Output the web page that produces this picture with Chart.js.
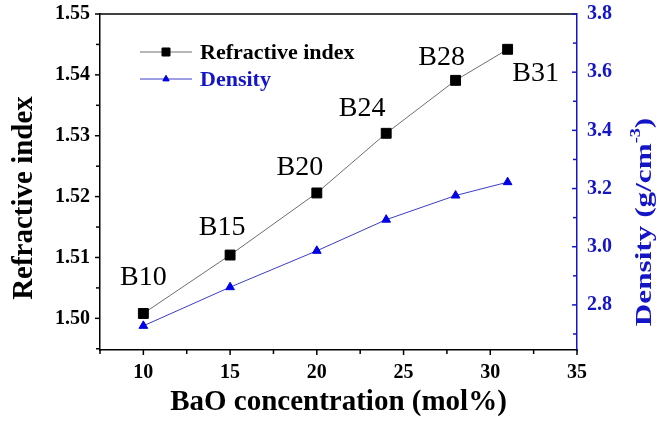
<!DOCTYPE html>
<html>
<head>
<meta charset="utf-8">
<script src="https://cdn.jsdelivr.net/npm/chart.js@4.4.0/dist/chart.umd.min.js"></script>
<style>
html, body { margin: 0; padding: 0; background: #fff; }
#wrap { width: 657px; height: 421px; }
</style>
</head>
<body>
<div id="wrap"><canvas id="myChart" width="657" height="421"></canvas></div>
<script>
// data
const concentration = [10, 15, 20, 24, 28, 31];
const refractiveIndex = [1.5008, 1.5104, 1.5206, 1.5304, 1.5391, 1.5442];
const density = [2.728, 2.861, 2.986, 3.093, 3.176, 3.222];
const sampleNames = ['B10', 'B15', 'B20', 'B24', 'B28', 'B31'];

const xTicks = [10, 15, 20, 25, 30, 35];
const refTicks = [1.50, 1.51, 1.52, 1.53, 1.54, 1.55];
const denTicks = [2.8, 3.0, 3.2, 3.4, 3.6, 3.8];

// label offsets from their point (style only)
const labelShift = [[0, -36], [-8, -27], [-17, -25], [-24, -25], [-14, -23], [28, 24]];

const serif = "'Liberation Serif', 'Times New Roman', serif";
const blue = '#1515c8';

function minorTicks(major, min, max) {
    const step = major[1] - major[0];
    const out = [];
    for (let v = major[0] - step / 2; v <= max + 1e-9; v += step) {
        if (v >= min - 1e-9) out.push(v);
    }
    return out;
}

function noPad(s) {
    s.paddingTop = 0;
    s.paddingBottom = 0;
    s.paddingLeft = 0;
    s.paddingRight = 0;
}

const decor = {
    id: 'decor',
    afterDraw(chart) {
        const ctx = chart.ctx;
        const a = chart.chartArea;
        const sx = chart.scales.x;
        const sl = chart.scales.yRef;
        const sr = chart.scales.yDen;

        function line(x1, y1, x2, y2) {
            ctx.beginPath();
            ctx.moveTo(x1, y1);
            ctx.lineTo(x2, y2);
            ctx.stroke();
        }

        ctx.save();
        ctx.lineWidth = 1.5;
        ctx.strokeStyle = '#000';
        line(a.left, a.top, a.right, a.top);

        xTicks.forEach(function(v) {
            const p = sx.getPixelForValue(v);
            line(p, a.bottom, p, a.bottom + 5);
        });
        minorTicks(xTicks, sx.min, sx.max).forEach(function(v) {
            const p = sx.getPixelForValue(v);
            line(p, a.bottom, p, a.bottom + 4);
        });
        refTicks.forEach(function(v) {
            const p = sl.getPixelForValue(v);
            line(a.left - 5, p, a.left, p);
        });
        minorTicks(refTicks, sl.min, sl.max).forEach(function(v) {
            const p = sl.getPixelForValue(v);
            line(a.left - 4, p, a.left, p);
        });

        ctx.strokeStyle = blue;
        denTicks.forEach(function(v) {
            const p = sr.getPixelForValue(v);
            line(a.right - 5, p, a.right, p);
        });
        minorTicks(denTicks, sr.min, sr.max).forEach(function(v) {
            const p = sr.getPixelForValue(v);
            line(a.right - 4, p, a.right, p);
        });

        // sample labels
        ctx.fillStyle = '#000';
        ctx.font = '28px ' + serif;
        ctx.textAlign = 'center';
        ctx.textBaseline = 'middle';
        sampleNames.forEach(function(name, i) {
            const px = sx.getPixelForValue(concentration[i]);
            const py = sl.getPixelForValue(refractiveIndex[i]);
            ctx.fillText(name, px + labelShift[i][0], py + labelShift[i][1]);
        });

        // legend
        const ds = chart.data.datasets;
        const rows = [52, 79];
        ds.forEach(function(d, i) {
            const y = rows[i];
            ctx.strokeStyle = d.borderColor;
            ctx.lineWidth = 1;
            line(140, y, 192, y);
            Chart.helpers.drawPoint(ctx, {
                pointStyle: d.pointStyle,
                radius: d.pointRadius - 1.5,
                borderWidth: 1,
                rotation: 0
            }, 166, y);
            ctx.fillStyle = d.pointBackgroundColor;
            ctx.strokeStyle = d.pointBorderColor;
            ctx.fill();
            ctx.stroke();
            ctx.fillStyle = i === 0 ? '#000' : blue;
            ctx.font = 'bold 22px ' + serif;
            ctx.textAlign = 'left';
            ctx.fillText(d.label, 200, y + 1);
        });

        // left title
        ctx.save();
        ctx.translate(25, 198);
        ctx.rotate(-Math.PI / 2);
        ctx.fillStyle = '#000';
        ctx.font = 'bold 29px ' + serif;
        ctx.textAlign = 'center';
        ctx.textBaseline = 'middle';
        ctx.fillText('Refractive index', 0, 0);
        ctx.restore();

        // right title with superscript
        ctx.save();
        ctx.translate(645, 222);
        ctx.rotate(-Math.PI / 2);
        ctx.scale(1.3, 1);
        ctx.fillStyle = blue;
        ctx.textBaseline = 'middle';
        ctx.textAlign = 'left';
        const mainFont = 'bold 24px ' + serif;
        const supFont = 'bold 14px ' + serif;
        ctx.font = mainFont;
        const w1 = ctx.measureText('Density (g/cm').width;
        const w3 = ctx.measureText(')').width;
        ctx.font = supFont;
        const w2 = ctx.measureText('-3').width;
        let x0 = -(w1 + w2 + w3) / 2;
        ctx.font = mainFont;
        ctx.fillText('Density (g/cm', x0, 0);
        ctx.font = supFont;
        ctx.fillText('-3', x0 + w1, -9);
        ctx.font = mainFont;
        ctx.fillText(')', x0 + w1 + w2, 0);
        ctx.restore();

        ctx.restore();
    }
};

const ctx = document.getElementById('myChart').getContext('2d');

new Chart(ctx, {
    type: 'line',
    data: {
        datasets: [{
            label: 'Refractive index',
            data: concentration.map(function(c, i) { return { x: c, y: refractiveIndex[i] }; }),
            yAxisID: 'yRef',
            borderColor: '#6e6e6e',
            borderWidth: 1,
            pointStyle: 'rect',
            pointRadius: 7,
            pointBackgroundColor: '#000',
            pointBorderColor: '#000',
            pointBorderWidth: 1
        }, {
            label: 'Density',
            data: concentration.map(function(c, i) { return { x: c, y: density[i] }; }),
            yAxisID: 'yDen',
            borderColor: '#3c3cc8',
            borderWidth: 1,
            pointStyle: 'triangle',
            pointRadius: 5,
            pointBackgroundColor: '#0000e6',
            pointBorderColor: '#0000e6',
            pointBorderWidth: 1
        }]
    },
    options: {
        responsive: false,
        animation: false,
        devicePixelRatio: 1,
        layout: { padding: { top: 14, left: 0, right: 0, bottom: 0 } },
        plugins: {
            legend: { display: false },
            tooltip: { enabled: false }
        },
        scales: {
            x: {
                type: 'linear',
                min: 7.5,
                max: 35,
                afterFit: function(s) { s.height = 71; noPad(s); },
                afterBuildTicks: function(s) { s.ticks = xTicks.map(function(v) { return { value: v }; }); },
                grid: { display: false, drawTicks: false },
                border: { display: true, color: '#000', width: 1.5 },
                ticks: {
                    padding: 11,
                    color: '#000',
                    font: { family: serif, size: 20, weight: 'bold' }
                },
                title: {
                    display: true,
                    text: 'BaO concentration (mol%)',
                    color: '#000',
                    font: { family: serif, size: 29, weight: 'bold' },
                    padding: { top: 0, bottom: 1 }
                }
            },
            yRef: {
                type: 'linear',
                position: 'left',
                min: 1.4948,
                max: 1.55,
                afterFit: function(s) { s.width = 100; noPad(s); },
                afterBuildTicks: function(s) { s.ticks = refTicks.map(function(v) { return { value: v }; }); },
                grid: { display: false, drawTicks: false },
                border: { display: true, color: '#000', width: 1.5 },
                ticks: {
                    padding: 10,
                    color: '#000',
                    font: { family: serif, size: 20, weight: 'bold' },
                    callback: function(v) { return Number(v).toFixed(2); }
                }
            },
            yDen: {
                type: 'linear',
                position: 'right',
                min: 2.645,
                max: 3.8,
                afterFit: function(s) { s.width = 80; noPad(s); },
                afterBuildTicks: function(s) { s.ticks = denTicks.map(function(v) { return { value: v }; }); },
                grid: { display: false, drawTicks: false },
                border: { display: true, color: blue, width: 1.5 },
                ticks: {
                    padding: 10,
                    color: blue,
                    font: { family: serif, size: 20, weight: 'bold' },
                    callback: function(v) { return Number(v).toFixed(1); }
                }
            }
        }
    },
    plugins: [decor]
});
</script>
</body>
</html>
